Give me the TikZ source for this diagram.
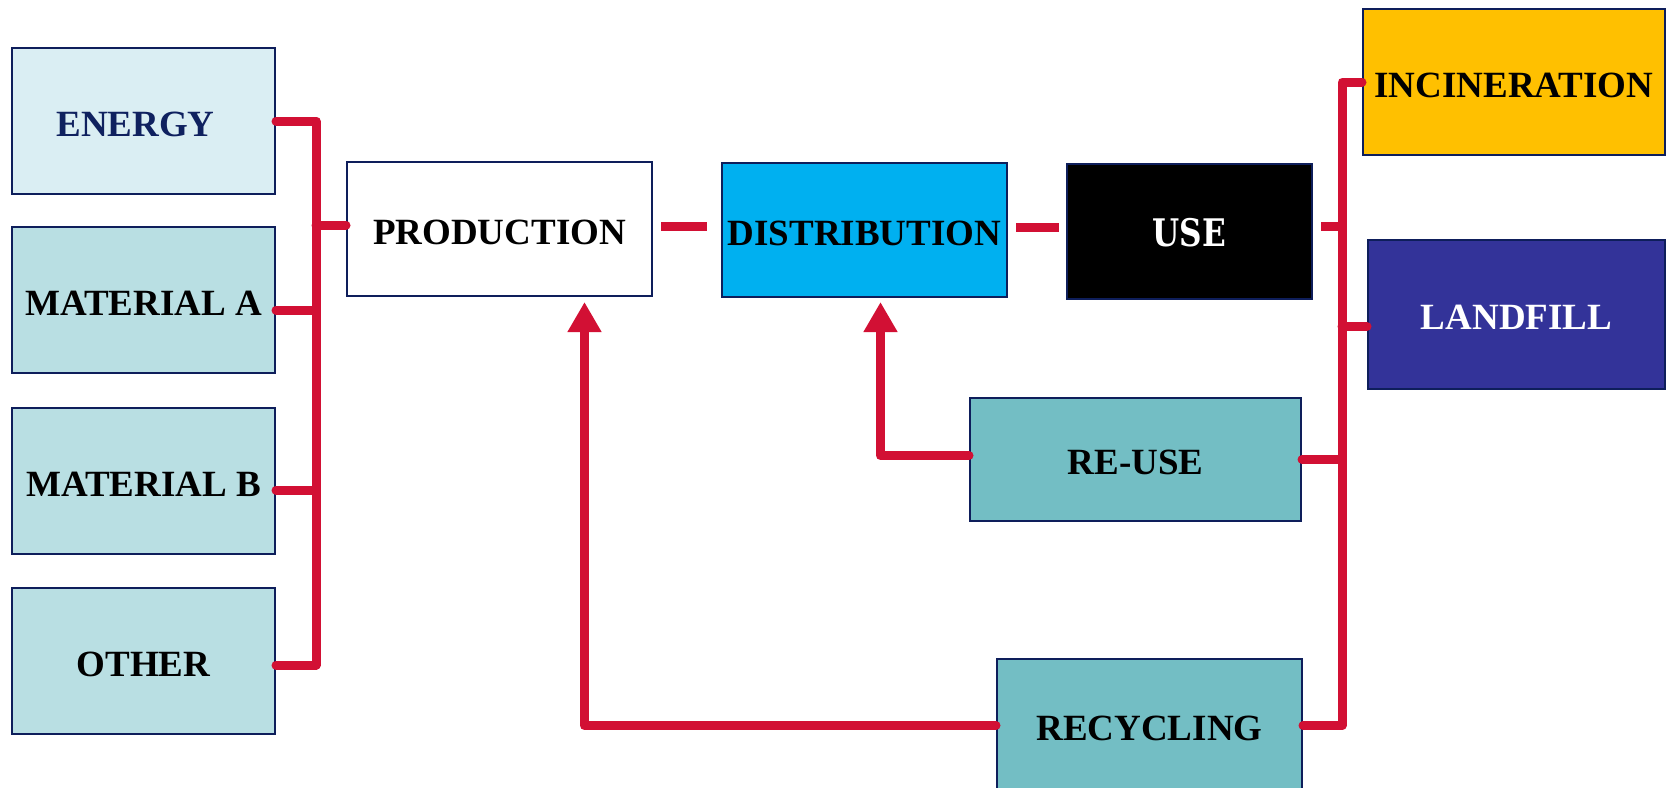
\documentclass[tikz,border=0pt]{standalone}
\usepackage{fontspec}
\setmainfont{Liberation Serif}
\newfontfamily\slabfont[FakeStretch=0.82]{DejaVu Serif}
\usetikzlibrary{arrows.meta}

\definecolor{boxline}{RGB}{14,30,91}
\definecolor{linkred}{RGB}{210,16,52}
\definecolor{navytext}{RGB}{15,33,95}
\definecolor{energyfill}{RGB}{218,238,243}
\definecolor{matfill}{RGB}{185,223,227}
\definecolor{loopfill}{RGB}{115,190,196}
\definecolor{distfill}{RGB}{0,176,240}
\definecolor{incfill}{RGB}{255,192,0}
\definecolor{landfillc}{RGB}{51,51,153}

\begin{document}
\begin{tikzpicture}[x=1pt,y=-1pt,
  box/.style={draw=boxline, line width=2pt, inner sep=0pt, align=center,
              text height=30pt, text depth=0pt,
              font=\fontsize{37}{44}\selectfont\bfseries},
  link/.style={draw=linkred, line width=9pt, line cap=round, line join=round},
  stub/.style={draw=linkred, line width=9pt, line cap=butt},
  arr/.style={link, -{Triangle[width=32pt,length=30pt]}},
]
\fill[white] (0,0) rectangle (1673,787);
\useasboundingbox (0,0) rectangle (1673,787);

% inputs
\node[box, fill=energyfill, text=navytext, minimum width=263, minimum height=146] (energy) at (143.5,121) {ENERGY\hspace*{16pt}};
\node[box, fill=matfill, minimum width=263, minimum height=146] (matA) at (143.5,300) {MATERIAL A};
\node[box, fill=matfill, minimum width=263, minimum height=146] (matB) at (143.5,481) {MATERIAL B};
\node[box, fill=matfill, minimum width=263, minimum height=146] (other) at (143.5,661) {OTHER};

% main chain
\node[box, fill=white, minimum width=305, minimum height=134] (prod) at (499.5,229) {PRODUCTION};
\node[box, fill=distfill, minimum width=285, minimum height=134] (dist) at (864.5,230) {DISTRIBUTION};
\node[box, fill=black, text=white, minimum width=245, minimum height=135] (use) at (1189.5,231.5)
  {\slabfont\bfseries\fontsize{38}{44}\selectfont USE};

% end of life
\node[box, fill=incfill, minimum width=302, minimum height=146] (incin) at (1514,82) {INCINERATION};
\node[box, fill=landfillc, text=white, minimum width=297, minimum height=149] (landf) at (1516.5,314.5) {LANDFILL};
\node[box, fill=loopfill, minimum width=331, minimum height=123] (reuse) at (1135.5,459.5) {RE-USE};
\node[box, fill=loopfill, minimum width=305, minimum height=133] (recyc) at (1149.5,725.5) {RECYCLING};

% bus lines
\coordinate (lb) at (316,0);
\coordinate (rb) at (1342,0);

% input bus
\coordinate (ae) at ([yshift=-10pt]matA.east);
\coordinate (be) at ([yshift=-9pt]matB.east);
\coordinate (oe) at ([yshift=-4pt]other.east);
\coordinate (pw) at ([yshift=4pt]prod.west);
\draw[link] (energy.east) -- (energy.east -| lb) -- (lb |- oe) -- (oe);
\draw[link] (ae) -- (ae -| lb);
\draw[link] (be) -- (be -| lb);
\draw[link] (lb |- pw) -- (pw);

% chain links
\coordinate (pe) at ([yshift=3pt]prod.east);
\coordinate (de) at ([yshift=3pt]dist.east);
\coordinate (ue) at ([yshift=5pt]use.east);
\draw[stub, shorten <=8pt, shorten >=14pt] (pe) -- (pe -| dist.west);
\draw[stub, shorten <=8pt, shorten >=7pt] (de) -- (de -| use.west);
\draw[stub, shorten <=8pt] (ue) -- (ue -| rb);

% output bus
\coordinate (le) at ([yshift=-12pt]landf.west);
\draw[link] (incin.west) -- (incin.west -| rb) -- (rb |- recyc.east) -- (recyc.east);
\draw[link] (le -| rb) -- (le);
\draw[link] (reuse.east) -- (reuse.east -| rb);

% return loops
\draw[arr, shorten >=4pt] ([yshift=4pt]reuse.west) -| ([xshift=16pt]dist.south);
\draw[arr, shorten >=5pt] (recyc.west) -| ([xshift=85pt]prod.south);
\end{tikzpicture}
\end{document}
